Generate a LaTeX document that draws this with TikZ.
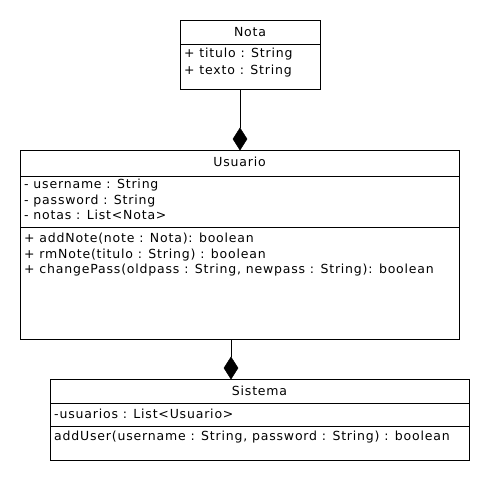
\documentclass[tikz,border=0pt]{standalone}
\usepackage{fontspec}
\setmainfont[LetterSpace=6.5]{DejaVu Sans}
\begin{document}
\begin{tikzpicture}[x=1pt,y=-1pt,
  box/.style={draw=black,line width=0.9pt},
  sep/.style={draw=black,line width=0.9pt},
  txt/.style={anchor=west,inner sep=0pt,font=\fontsize{12.5}{14}\selectfont,text height=9.2pt,text depth=2.6pt},
  ttl/.style={anchor=center,inner sep=0pt,font=\fontsize{12.5}{14}\selectfont,text height=9.2pt,text depth=2.6pt},
  conn/.style={draw=black,line width=0.9pt},
  diam/.style={fill=black,draw=black,line width=0.5pt}]
\useasboundingbox (0,0) rectangle (490,480);
% Nota
\draw[box] (180,20) rectangle (320,89);
\draw[sep] (180,44) -- (320,44);
\node[ttl] (notaT) at (250,33) {Nota};
\node[txt] (nota1) at (184,54.5) {+ titulo : String};
\node[txt] (nota2) at (184,71) {+ texto : String};
\coordinate (notaB) at (240,89);
% Usuario
\draw[box] (20,150) rectangle (459,339);
\draw[sep] (20,176) -- (459,176);
\draw[sep] (20,227) -- (459,227);
\node[ttl] (usuT) at (239.5,163.5) {Usuario};
\node[txt] (u1) at (24,185.5) {- username : String};
\node[txt] (u2) at (24,201) {- password : String};
\node[txt] (u3) at (24,216.5) {- notas : List<Nota>};
\node[txt] (u4) at (24,239.5) {+ addNote(note : Nota): boolean};
\node[txt] (u5) at (24,255) {+ rmNote(titulo : String) : boolean};
\node[txt] (u6) at (24,270.5) {+ changePass(oldpass : String, newpass : String): boolean};
\coordinate (usuTop) at (240,150);
\coordinate (usuB) at (231,339);
% Sistema
\draw[box] (50,379) rectangle (469,460);
\draw[sep] (50,403) -- (469,403);
\draw[sep] (50,426) -- (469,426);
\node[ttl] (sisT) at (259.5,392.5) {Sistema};
\node[txt] (s1) at (54,415.5) {-usuarios : List<Usuario>};
\node[txt] (s2) at (54,437.5) {addUser(username : String, password : String) : boolean};
\coordinate (sisTop) at (231,379);
% connectors
\draw[conn] (notaB) -- (240,128);
\draw[diam] (usuTop) -- (247,139) -- (240,128) -- (233,139) -- cycle;
\draw[conn] (usuB) -- (231,357);
\draw[diam] (sisTop) -- (238,368) -- (231,357) -- (224,368) -- cycle;
\end{tikzpicture}
\end{document}
